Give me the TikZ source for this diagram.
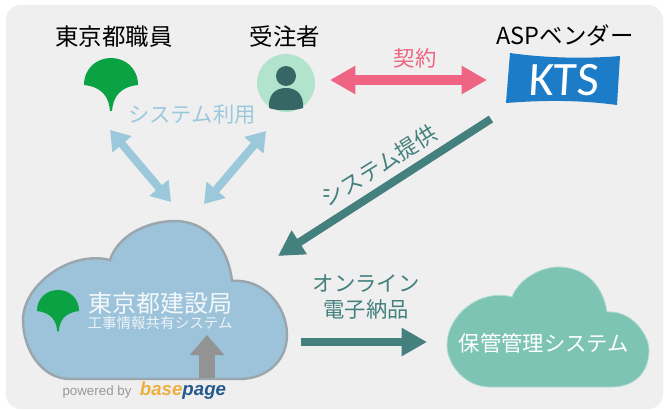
\documentclass[tikz,border=0pt]{standalone}
\usepackage{fontspec}
\setmainfont{Noto Sans CJK JP}
\newfontfamily\ktsfont{Carlito}
\newfontfamily\brandfont{Liberation Sans}
\usetikzlibrary{arrows.meta}
\definecolor{panelgray}{HTML}{EFEFEF}
\definecolor{leafgreen}{HTML}{0BA244}
\definecolor{skyblue}{HTML}{9CC8DC}
\definecolor{cloudblue}{HTML}{9CC3DA}
\definecolor{cloudedge}{HTML}{9BA6AC}
\definecolor{rosepink}{HTML}{EE6482}
\definecolor{deepteal}{HTML}{43807E}
\definecolor{cloudteal}{HTML}{7EC4B4}
\definecolor{ktsblue}{HTML}{1C7CC8}
\definecolor{brandorange}{HTML}{EBB040}
\definecolor{brandnavy}{HTML}{24598F}
\tikzset{
  labeltext/.style={inner sep=0.75pt,font=\fontsize{17.6pt}{20pt}\selectfont},
  midtext/.style={inner sep=0.75pt,font=\fontsize{16pt}{19pt}\selectfont},
  blockblue/.style={draw=skyblue,line width=6pt,{Triangle[length=14pt,width=18pt]}-{Triangle[length=14pt,width=18pt]}},
  blockpink/.style={draw=rosepink,line width=7.5pt,{Triangle[length=19pt,width=20pt]}-{Triangle[length=19pt,width=20pt]}},
  blockteal/.style={draw=deepteal,line width=6pt,-{Triangle[length=19pt,width=20pt]}},
  blockgray/.style={draw=gray!85,line width=12.5pt,-{Triangle[length=15pt,width=25pt]}},
  ginkgo/.pic={
    \fill[leafgreen,yscale=-1] (0,53) -- (-1,53) .. controls (-2,40) and (-8,29) .. (-27,27)
      .. controls (-27,10) and (-14,0) .. (0,0) .. controls (14,0) and (27,10) .. (27,27)
      .. controls (8,29) and (2,40) .. (1,53) -- cycle;
  }
}
\begin{document}
\begin{tikzpicture}[x=0.75pt,y=0.75pt,yscale=-1,xscale=1]
\useasboundingbox (0,0) rectangle (664,410);

% Panel
\fill[panelgray,rounded corners=11pt] (6,5) rectangle (663,409);

% Clouds
\draw[fill=cloudblue,draw=cloudedge,line width=1.8pt] (110,260) .. controls (118,235) and (148,221) .. (175,221) .. controls (205,221) and (228,245) .. (232,281) .. controls (262,278) and (287,305) .. (287,335) .. controls (287,362) and (265,379) .. (240,379) -- (70,379) .. controls (42,379) and (23,350) .. (23,320) .. controls (23,285) and (70,250) .. (110,260) -- cycle ;
\draw[fill=cloudteal,draw=cloudteal!60!white,line width=0.6pt] (512,297) .. controls (518,280) and (540,267) .. (558,267) .. controls (585,267) and (603,285) .. (607,312) .. controls (632,310) and (649,335) .. (649,350) .. controls (649,372) and (635,387) .. (612,387) -- (490,387) .. controls (465,387) and (447,365) .. (447,345) .. controls (447,315) and (480,288) .. (512,297) -- cycle ;

% Leaves
\pic at (111,58) {ginkgo};
\pic[scale=0.78] at (58,290) {ginkgo};

% Person
\fill[green!30!teal!30!white] (286,83) circle [radius=29];
\fill[black!20!deepteal] (286,76) circle [radius=10];
\fill[black!20!deepteal] (269,108) .. controls (268,95) and (275,88) .. (286,88) .. controls (297,88) and (304,95) .. (303,108) .. controls (295,111) and (277,111) .. (269,108) -- cycle ;

% KTS flag
\fill[ktsblue] (510,53) .. controls (545,58) and (585,59) .. (620,56) -- (617,105) .. controls (580,100) and (545,100) .. (506,103) -- cycle ;
\node (kts) [text=white,inner sep=0pt,xslant=0.06,font=\ktsfont\fontsize{36pt}{40pt}\selectfont] at (564,80) {KTS};

% Text Node
\node (staff) [labeltext] at (114,37) {東京都職員};
\node (contractor) [labeltext] at (285,37) {受注者};
\node (vendor) [labeltext] at (565,35) {ASPベンダー};
\node (use) [midtext,text=skyblue] at (192,115) {システム利用};
\node (contract) [midtext,text=rosepink] at (415,58) {契約};
\node (provide) [inner sep=0pt,text=deepteal,rotate=32,font=\fontsize{16.5pt}{19pt}\selectfont] at (379,166) {システム提供};
\node (online) [midtext,text=deepteal,align=center] at (366,297) {オンライン\\電子納品};
\node (archive) [midtext,text=white] at (544,343) {保管管理システム};
\node (bureau) [text=white!88!cloudblue,inner sep=0.75pt,font=\fontsize{18pt}{20pt}\selectfont] at (160,303) {東京都建設局};
\node (share) [text=white!80!cloudblue,inner sep=0.75pt,font=\fontsize{10.9pt}{12pt}\selectfont] at (160,323) {工事情報共有システム};
\node (powered) [text=gray!80,inner sep=0.75pt,font=\brandfont\fontsize{10pt}{11pt}\selectfont] at (97,392) {powered by};
\node (brand) [inner sep=0.75pt,font=\brandfont\bfseries\itshape\fontsize{14pt}{16pt}\selectfont] at (183,391) {\textcolor{brandorange}{base}\textcolor{brandnavy}{page}};

% Connector ends
\coordinate (staffend) at (110,130);
\coordinate (staffcloud) at (171,202);
\coordinate (contractorend) at (266,131);
\coordinate (contractorcloud) at (204,204);
\coordinate (contractleft) at (330,80);
\coordinate (contractright) at (487,80);
\coordinate (vendorend) at (491,119);
\coordinate (cloudin) at (278,256);
\coordinate (cloudout) at (301,342);
\coordinate (archivein) at (427,342);
\coordinate (uploadfoot) at (207,378);
\coordinate (uploadtip) at (207,335);

% Arrows
\draw[blockgray] (uploadfoot) -- (uploadtip) ;
\draw[blockblue] (staffend) -- (staffcloud) ;
\draw[blockblue] (contractorend) -- (contractorcloud) ;
\draw[blockpink] (contractleft) -- (contractright) ;
\draw[blockteal] (vendorend) -- (cloudin) ;
\draw[blockteal] (cloudout) -- (archivein) ;

\end{tikzpicture}
\end{document}
